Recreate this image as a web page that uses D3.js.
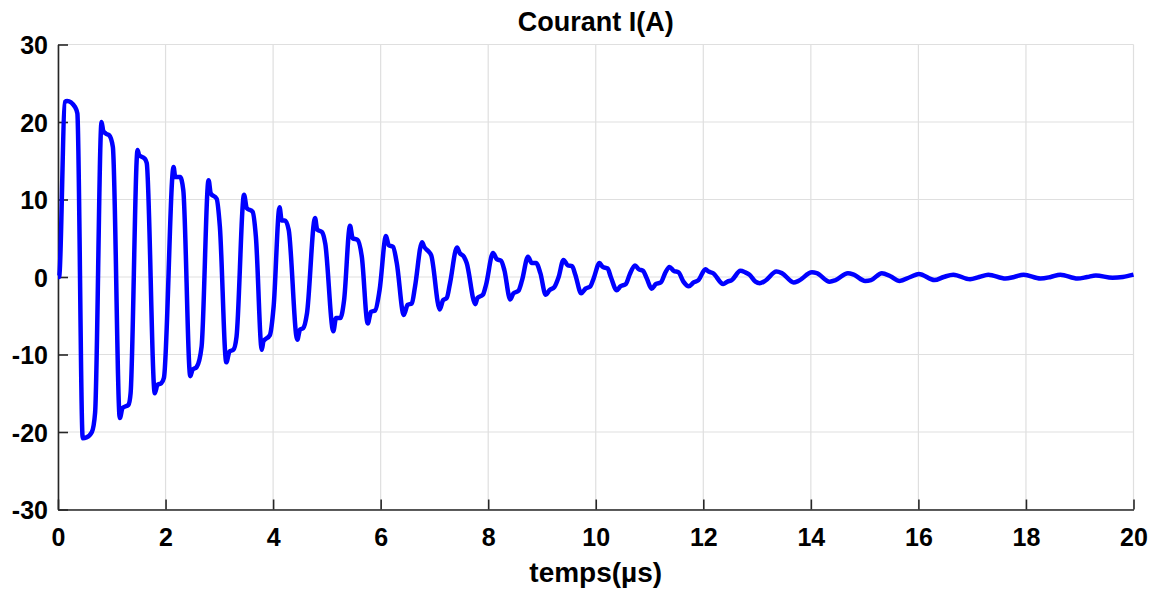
<!DOCTYPE html>
<html>
<head>
<meta charset="utf-8">
<script src="https://cdn.jsdelivr.net/npm/d3@7"></script>
<style>
  body { margin: 0; background: #fff; }
  svg text { font-family: "Liberation Sans", Arial, Helvetica, sans-serif; font-weight: bold; fill: #000; }
</style>
</head>
<body>
<div class="chart"></div>
<script>
// Values: time in µs, current in A
const timeValues = [
  0.00, 0.02, 0.13, 0.17, 0.32, 0.36, 0.46, 0.53, 0.63, 0.69,
  0.81, 0.84, 0.89, 0.95, 1.02, 1.15, 1.20, 1.31, 1.35,
  1.48, 1.51, 1.61, 1.65, 1.80, 1.85, 1.92, 1.97,
  2.15, 2.18, 2.27, 2.33, 2.46, 2.50, 2.58, 2.67,
  2.80, 2.84, 2.95, 3.01, 3.13, 3.19, 3.26, 3.32,
  3.46, 3.51, 3.62, 3.68, 3.79, 3.82, 3.94, 4.01,
  4.12, 4.16, 4.22, 4.29, 4.45, 4.50, 4.56, 4.63,
  4.78, 4.82, 4.91, 4.97, 5.12, 5.17, 5.25, 5.32,
  5.43, 5.48, 5.57, 5.65, 5.76, 5.82, 5.90, 5.98,
  6.10, 6.15, 6.23, 6.30, 6.43, 6.50, 6.58, 6.64,
  6.77, 6.81, 6.89, 6.94, 7.10, 7.16, 7.23, 7.29,
  7.42, 7.47, 7.55, 7.60, 7.76, 7.80, 7.90, 7.96,
  8.09, 8.16, 8.24, 8.30, 8.41, 8.47, 8.56, 8.63,
  8.74, 8.81, 8.89, 8.97, 9.07, 9.14, 9.23, 9.31,
  9.40, 9.48, 9.56, 9.62, 9.73, 9.81, 9.90, 9.96,
  10.07, 10.13, 10.22, 10.28, 10.39, 10.46, 10.56, 10.63,
  10.73, 10.80, 10.88, 10.95, 11.04, 11.12, 11.21, 11.29,
  11.37, 11.45, 11.54, 11.63, 11.73, 11.82, 11.91,
  12.04, 12.10, 12.18, 12.37, 12.45, 12.53,
  12.69, 12.78, 12.86, 12.97, 13.05, 13.15,
  13.36, 13.46, 13.68, 13.77, 14.02, 14.11, 14.35, 14.46,
  14.69, 14.80, 15.01, 15.12, 15.32, 15.48, 15.65, 15.85,
  16.01, 16.30, 16.47, 16.65, 16.96, 17.13, 17.30, 17.62,
  17.78, 17.96, 18.27, 18.46, 18.64, 18.96, 19.14, 19.30,
  19.61, 19.80, 20.00
];
const currentValues = [
  0.0, 0.0, 22.6, 22.7, 21.9, 21.1, -20.8, -20.7, -20.0, -17.5,
  20.0, 18.9, 18.5, 18.3, 16.8, -18.2, -16.9, -16.5, -15.0,
  16.4, 15.7, 15.3, 14.7, -15.0, -13.9, -13.7, -13.0,
  14.2, 12.9, 12.9, 11.2, -12.8, -12.0, -11.6, -9.0,
  12.5, 10.8, 10.1, 6.5, -11.0, -9.6, -9.4, -7.7,
  10.6, 8.9, 8.4, 5.2, -9.4, -8.3, -7.5, -3.8,
  9.0, 7.3, 7.3, 6.1, -8.1, -6.8, -6.6, -4.7,
  7.6, 6.1, 5.8, 4.3, -7.0, -5.3, -5.3, -3.0,
  6.6, 5.0, 4.8, 2.6, -6.0, -4.5, -4.3, -1.7,
  5.3, 4.1, 3.9, 1.8, -4.9, -3.6, -3.4, -1.2,
  4.5, 3.9, 3.3, 2.8, -4.2, -3.0, -2.7, -0.8,
  3.8, 3.1, 2.6, 1.8, -3.5, -2.7, -2.3, -1.0,
  3.1, 2.3, 2.1, 0.9, -2.9, -2.1, -1.8, -0.4,
  2.6, 1.8, 1.8, 0.5, -2.3, -1.7, -1.3, 0.0,
  2.2, 1.5, 1.4, 0.3, -2.1, -1.5, -1.2, -0.2,
  1.8, 1.3, 1.1, 0.0, -1.7, -1.2, -0.9, 0.3,
  1.5, 1.0, 0.8, -0.2, -1.5, -0.9, -0.7, 0.5,
  1.3, 0.8, 0.6, -0.6, -1.2, -0.7, -0.4,
  1.0, 0.7, 0.5, -0.9, -0.6, -0.4,
  0.8, 0.6, 0.3, -0.6, -0.8, -0.5,
  0.7, 0.5, -0.7, -0.5, 0.6, 0.5, -0.6, -0.4,
  0.5, 0.3, -0.5, -0.4, 0.5, 0.1, -0.5, 0.0,
  0.4, -0.4, 0.0, 0.3, -0.3, 0.0, 0.3, -0.2,
  0.0, 0.3, -0.2, 0.0, 0.3, -0.2, 0.0, 0.2,
  -0.1, 0.0, 0.3
];
const xTicks = [0, 2, 4, 6, 8, 10, 12, 14, 16, 18, 20];
const yTicks = [-30, -20, -10, 0, 10, 20, 30];

const width = 1159;
const height = 593;
const margin = { top: 44.5, right: 25.5, bottom: 83.5, left: 58 };
const innerW = width - margin.left - margin.right;
const innerH = height - margin.top - margin.bottom;

const svg = d3.select(".chart")
    .append("svg")
    .attr("width", width)
    .attr("height", height);

const g = svg.append("g")
    .attr("transform", "translate(" + margin.left + "," + margin.top + ")");

const x = d3.scaleLinear().domain([0, 20]).range([0, innerW]);
const y = d3.scaleLinear().domain([-30, 30]).range([innerH, 0]);

// Grid lines
g.append("g")
    .selectAll("line")
    .data(xTicks)
    .join("line")
    .attr("x1", d => x(d)).attr("x2", d => x(d))
    .attr("y1", 0).attr("y2", innerH)
    .attr("stroke", "#dfdfdf")
    .attr("stroke-width", 1.2);

g.append("g")
    .selectAll("line")
    .data(yTicks)
    .join("line")
    .attr("x1", 0).attr("x2", innerW)
    .attr("y1", d => y(d)).attr("y2", d => y(d))
    .attr("stroke", "#dfdfdf")
    .attr("stroke-width", 1.2);

// Axes (MATLAB style, ticks pointing inward, plain hyphen for negatives)
const fmt = d => String(d);
const xAxis = g.append("g")
    .attr("transform", "translate(0," + innerH + ")")
    .call(d3.axisBottom(x).tickValues(xTicks).tickFormat(fmt).tickSize(-10).tickPadding(19).tickSizeOuter(0));

const yAxis = g.append("g")
    .call(d3.axisLeft(y).tickValues(yTicks).tickFormat(fmt).tickSize(-10).tickPadding(10).tickSizeOuter(0));

[xAxis, yAxis].forEach(a => {
    a.attr("font-size", null).attr("font-family", null);
    a.select(".domain").attr("stroke", "#262626").attr("stroke-width", 1.6);
    a.selectAll(".tick line").attr("stroke", "#262626").attr("stroke-width", 1.6);
    a.selectAll(".tick text")
        .style("font-size", "25px")
        .attr("fill", "#000");
});
yAxis.selectAll(".tick text").attr("dy", "0.36em");

// Current curve
const points = timeValues.map((t, i) => [t, currentValues[i]]);
const line = d3.line()
    .x(d => x(d[0]))
    .y(d => y(d[1]))
    .curve(d3.curveMonotoneX);

g.append("path")
    .datum(points)
    .attr("fill", "none")
    .attr("stroke", "#0000ff")
    .attr("stroke-width", 4.5)
    .attr("stroke-linejoin", "round")
    .attr("d", line);

// Title and axis label
svg.append("text")
    .attr("x", margin.left + innerW / 2)
    .attr("y", 31)
    .attr("text-anchor", "middle")
    .style("font-size", "27px")
    .text("Courant I(A)");

svg.append("text")
    .attr("x", margin.left + innerW / 2)
    .attr("y", 582)
    .attr("text-anchor", "middle")
    .style("font-size", "28px")
    .text("temps(µs)");
</script>
</body>
</html>
